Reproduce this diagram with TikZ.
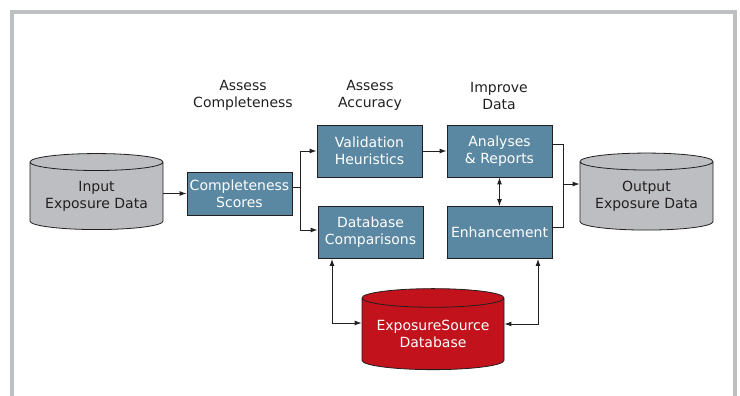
\documentclass[tikz,border=0pt]{standalone}
\usepackage{fontspec}
\setmainfont{DejaVu Sans}
\usepackage{tikz}
\usetikzlibrary{shapes,arrows.meta,positioning,calc}

\definecolor{framegray}{HTML}{BEBFC3}
\definecolor{cylgray}{HTML}{BDBEC1}
\definecolor{boxblue}{HTML}{5A87A1}
\definecolor{srcred}{HTML}{C2121C}
\definecolor{inkdark}{HTML}{231F20}

\tikzset{
  stage/.style={draw=inkdark,fill=boxblue,text=white,align=center,
    minimum width=105,minimum height=52,inner sep=0pt,line width=0.9pt},
  store/.style={cylinder,shape border rotate=90,draw=inkdark,line width=0.8pt,
    align=center,inner sep=0pt,aspect=0.165},
  header/.style={text=inkdark,align=center},
  flow/.style={draw=inkdark,line width=0.95pt,-{Latex[length=7pt,width=5pt]}},
  twoway/.style={draw=inkdark,line width=0.95pt,{Latex[length=7pt,width=5pt]}-{Latex[length=7pt,width=5pt]}}
}

\begin{document}
\begin{tikzpicture}[x=1pt,y=-1pt,font=\fontsize{14}{17}\selectfont]
      \useasboundingbox (0,0) rectangle (740,396);
      % open frame
      \draw[framegray,line width=4pt] (12,396) -- (12,12) -- (735,12) -- (735,396);

      \node[header] (hcomp) at (243,95.5) {Assess\\Completeness};
      \node[header] (hacc) at (370,95.5) {Assess\\Accuracy};
      \node[header] (himp) at (499,95.5) {Improve\\Data};

      \node[store,fill=cylgray,text=inkdark,minimum width=133,minimum height=76] (inp) at (96.5,196) {Input\\Exposure Data};
      \node[store,fill=cylgray,text=inkdark,minimum width=133,minimum height=77] (outp) at (646.5,196) {Output\\Exposure Data};
      \node[store,fill=srcred,text=white,minimum width=142,minimum height=81] (src) at (433,334) {ExposureSource\\Database};

      \node[stage,minimum height=43] (scores) at (239.5,193.5) {Completeness\\Scores};
      \node[stage] (valid) at (369.5,151) {Validation\\Heuristics};
      \node[stage] (analyses) at (499.5,151) {Analyses\\\& Reports};
      \node[stage] (dbcomp) at (370.5,232.5) {Database\\Comparisons};
      \node[stage] (enhance) at (499.5,232.5) {Enhancement};

      \coordinate (split) at (300,187);
      \coordinate (merge) at (563,184);
      \coordinate (dl) at (332,323);
      \coordinate (dr) at (538,324);

      \draw[flow] (scores.west -| inp.east) -- (scores.west);
      \draw[flow] (scores.east |- split) -- (split) |- (valid.west);
      \draw[flow] (split) |- ([yshift=2.5pt]dbcomp.west);
      \draw[flow] (valid) -- (analyses);
      \draw[draw=inkdark,line width=0.95pt] ([yshift=7pt]analyses.east) -| (merge);
      \draw[draw=inkdark,line width=0.95pt] ([yshift=5.5pt]enhance.east) -| (merge);
      \draw[flow] (merge) -- (merge -| outp.west);
      \draw[twoway] (analyses.south) -- (enhance.north);
      \draw[twoway] (dbcomp.south -| dl) -- (dl) -- (dl -| src.west);
      \draw[twoway] (enhance.south -| dr) -- (dr) -- (dr -| src.east);
\end{tikzpicture}
\end{document}
